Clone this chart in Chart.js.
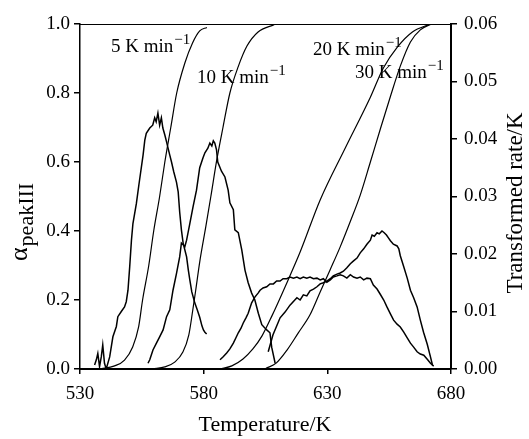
<!DOCTYPE html>
<html>
<head>
<meta charset="utf-8">
<script src="https://cdn.jsdelivr.net/npm/chart.js@4.4.1/dist/chart.umd.min.js"></script>
<style>
  body { margin: 0; background: #fff; }
  #wrap { width: 529px; height: 439px; position: relative; }
</style>
</head>
<body>
<div id="wrap"><canvas id="chart"></canvas></div>
<script>
// conversion curves (left axis, alpha)
const conv5T = [537.9, 544.0, 548.0, 551.3, 553.7, 555.3, 557.8, 559.8, 562.2, 564.3, 566.7, 569.1, 572.4, 575.5, 578.4, 581.3];
const conv5A = [0, 0.009, 0.026, 0.064, 0.122, 0.2, 0.3, 0.4, 0.5, 0.6, 0.7, 0.8, 0.887, 0.945, 0.98, 0.99];
const conv10T = [559.4, 564.3, 568.3, 571.6, 574.0, 575.6, 576.8, 578.4, 580.9, 582.9, 585.3, 587.8, 590.6, 593.9, 597.5, 602.0, 608.5];
const conv10A = [0, 0.006, 0.02, 0.049, 0.099, 0.171, 0.229, 0.31, 0.414, 0.5, 0.606, 0.7, 0.8, 0.875, 0.936, 0.977, 0.998];
const conv20T = [586.6, 591.4, 595.9, 599.9, 603.6, 607.6, 612.9, 619.0, 627.1, 637.2, 647.4, 652.6, 658.3, 664.4, 671.7];
const conv20A = [0, 0.009, 0.029, 0.058, 0.096, 0.154, 0.238, 0.339, 0.49, 0.64, 0.788, 0.872, 0.933, 0.977, 1.0];
const conv30T = [605.2, 609.3, 613.7, 618.2, 623.0, 627.1, 631.1, 635.2, 639.2, 643.3, 647.4, 651.4, 655.5, 659.5, 663.6, 667.6, 672.1];
const conv30A = [0.002, 0.017, 0.055, 0.104, 0.157, 0.223, 0.287, 0.354, 0.426, 0.504, 0.6, 0.695, 0.79, 0.878, 0.948, 0.983, 1.0];

// transformed rate curves (right axis, 1/K)
const rate5T = [535.9, 536.6, 537.2, 537.9, 538.6, 539.2, 539.9, 540.6, 542.0, 543.3, 544.7, 545.3, 546.7, 548.0, 548.7, 549.4, 550.1, 550.8, 551.4, 552.8, 553.8,
  555.5, 556.2, 556.8, 558.2, 559.4, 560.2, 560.8, 561.5, 562.2, 562.9, 563.5, 564.3, 565.0, 565.6, 566.3, 567.0, 567.9, 569.0, 569.7, 570.3,
  571.0, 571.7, 572.4, 573.1, 573.8, 574.4, 575.2, 576.4, 577.4, 578.4, 579.3, 579.9, 580.5, 581.2];
const rate5R = [0.0007, 0.0016, 0.0027, 0.0004, 0.0021, 0.0042, 0.001, 0.0, 0.0021, 0.0056, 0.0074, 0.0091, 0.010, 0.0108, 0.0117, 0.0137, 0.0178, 0.0224, 0.0253, 0.0288, 0.032,
  0.0372, 0.0398, 0.041, 0.0419, 0.0424, 0.0437, 0.043, 0.0445, 0.0424, 0.0437, 0.0419, 0.0407, 0.0395, 0.0384, 0.0372, 0.036, 0.0343, 0.0325, 0.0308, 0.0273,
  0.0242, 0.0219, 0.0207, 0.0195, 0.0172, 0.0155, 0.0134, 0.0115, 0.0103, 0.009, 0.0075, 0.0068, 0.0064, 0.0061];
const rate10T = [557.5, 558.2, 559.5, 560.9, 562.2, 563.6, 565.0, 566.3, 567.6, 569.0, 570.3, 571.0, 572.4, 573.1, 574.4, 575.7, 577.1, 578.4, 579.7, 580.5,
  581.7, 582.5, 583.3, 583.9, 584.5, 585.2, 585.7, 587.2, 588.6, 589.9, 590.6, 592.0, 592.6, 594.0, 595.4, 596.7, 598.0, 599.4, 600.7, 602.1, 603.5, 605.5, 606.8, 607.5, 608.9];
const rate10R = [0.001, 0.0016, 0.0033, 0.0045, 0.0056, 0.0068, 0.0091, 0.0103, 0.0137, 0.0166, 0.0195, 0.0219, 0.0213, 0.0224, 0.0253, 0.0282, 0.0311, 0.035, 0.0367, 0.0376,
  0.0384, 0.0393, 0.0388, 0.0397, 0.0393, 0.0381, 0.036, 0.0344, 0.0334, 0.0311, 0.0289, 0.0277, 0.0242, 0.0237, 0.0207, 0.0172, 0.015, 0.0132, 0.012, 0.0097, 0.0077, 0.0068, 0.0063, 0.0038, 0.001];
const rate20T = [586.6, 587.8, 589.3, 590.6, 592.0, 593.0, 594.0, 595.1, 596.0, 597.1, 598.0, 598.7, 599.4, 600.7, 602.0, 602.8, 604.0, 605.5, 606.8, 608.2,
  609.5, 610.9, 612.1, 613.6, 614.9, 616.3, 617.7, 619.0, 620.3, 621.7, 623.0, 624.4, 625.8, 627.1, 628.4, 629.8, 631.2, 632.4, 633.9, 635.2,
  636.5, 637.9, 639.3, 640.6, 642.0, 643.3, 644.7, 646.0, 647.4, 648.6, 650.1, 651.4, 652.8, 654.1, 655.5, 656.8, 658.2, 659.5, 660.9, 662.3,
  663.6, 664.9, 666.3, 667.6, 669.0, 670.4, 671.7, 673.0];
const rate20R = [0.0016, 0.0021, 0.0028, 0.0035, 0.0045, 0.0054, 0.0063, 0.0071, 0.008, 0.0089, 0.0097, 0.0106, 0.0115, 0.0125, 0.0132, 0.0137, 0.0141, 0.0143, 0.0148, 0.0148,
  0.0153, 0.0153, 0.0157, 0.0157, 0.016, 0.0158, 0.016, 0.0157, 0.016, 0.0158, 0.016, 0.0157, 0.0158, 0.0155, 0.0157, 0.0151, 0.0155, 0.016, 0.0162, 0.0164,
  0.0162, 0.0158, 0.0164, 0.016, 0.0158, 0.016, 0.0155, 0.0158, 0.0157, 0.0146, 0.0139, 0.013, 0.012, 0.0108, 0.0096, 0.0085, 0.0078, 0.0073, 0.0064, 0.0054,
  0.0045, 0.0038, 0.003, 0.0026, 0.0024, 0.0017, 0.001, 0.0005];
const rate30T = [606.1, 608.0, 610.9, 612.9, 614.9, 617.7, 619.0, 620.3, 621.7, 623.0, 624.4, 625.8, 627.1, 628.4, 629.8, 631.2, 632.4, 633.9, 635.2, 636.5,
  637.9, 639.3, 640.6, 642.0, 643.3, 644.7, 646.0, 647.4, 648.1, 649.0, 650.1, 651.0, 652.1, 653.0, 653.9, 654.7, 655.5, 656.7, 658.2, 658.9,
  659.5, 660.8, 662.3, 663.6, 664.9, 666.3, 667.6, 668.9, 670.4, 671.7, 672.5];
const rate30R = [0.003, 0.0059, 0.0089, 0.0099, 0.0111, 0.0124, 0.012, 0.0129, 0.0127, 0.0136, 0.0139, 0.0143, 0.0148, 0.015, 0.0153, 0.0157, 0.0162, 0.0165, 0.0167, 0.017,
  0.0176, 0.0183, 0.0188, 0.0193, 0.0202, 0.0209, 0.0217, 0.0224, 0.0233, 0.0231, 0.0237, 0.0235, 0.024, 0.0237, 0.0233, 0.0228, 0.0223, 0.0217, 0.0214, 0.0209,
  0.0197, 0.0179, 0.0158, 0.0137, 0.0124, 0.0108, 0.0085, 0.0064, 0.0043, 0.0021, 0.0007];

const xTicks = [530, 580, 630, 680];
const alphaTicks = [0, 0.2, 0.4, 0.6, 0.8, 1.0];
const rateTicks = [0, 0.01, 0.02, 0.03, 0.04, 0.05, 0.06];
const curveLabels = ['5 K min', '10 K min', '20 K min', '30 K min'];

const SERIF = "'Liberation Serif', 'Times New Roman', serif";

function pts(xs, ys) {
  return xs.map((x, i) => ({ x: x, y: ys[i] }));
}

function convSet(xs, ys) {
  return {
    data: pts(xs, ys), yAxisID: 'y', borderColor: '#000', borderWidth: 1.2,
    pointRadius: 0, cubicInterpolationMode: 'monotone', fill: false
  };
}

function rateSet(xs, ys) {
  return {
    data: pts(xs, ys), yAxisID: 'y2', borderColor: '#000', borderWidth: 1.5,
    pointRadius: 0, tension: 0, fill: false
  };
}

// top frame line, axis titles and curve labels
const decorations = {
  id: 'decorations',
  afterDraw(chart) {
    const ctx = chart.ctx;
    const a = chart.chartArea;
    ctx.save();
    ctx.strokeStyle = '#000';
    ctx.lineWidth = 1;
    ctx.beginPath();
    ctx.moveTo(a.left, a.top + 0.5);
    ctx.lineTo(a.right, a.top + 0.5);
    ctx.stroke();

    ctx.fillStyle = '#000';
    ctx.textBaseline = 'alphabetic';

    // curve labels with superscript -1
    const spots = [[111, 52], [197, 83], [313, 55], [355, 78]];
    curveLabels.forEach((txt, i) => {
      ctx.font = '19px ' + SERIF;
      ctx.textAlign = 'left';
      ctx.fillText(txt, spots[i][0], spots[i][1]);
      const w = ctx.measureText(txt).width;
      ctx.font = '15px ' + SERIF;
      ctx.fillText('\u22121', spots[i][0] + w + 1, spots[i][1] - 8);
    });

    // x title
    ctx.font = '22px ' + SERIF;
    ctx.textAlign = 'center';
    ctx.fillText('Temperature/K', 265, 431);

    // right title
    ctx.save();
    ctx.translate(522, 203);
    ctx.rotate(-Math.PI / 2);
    ctx.font = '23px ' + SERIF;
    ctx.textAlign = 'center';
    ctx.fillText('Transformed rate/K', 0, 0);
    ctx.restore();

    // left title alpha_peakIII
    ctx.save();
    ctx.translate(27, 261);
    ctx.rotate(-Math.PI / 2);
    ctx.textAlign = 'left';
    ctx.font = '26px ' + SERIF;
    ctx.fillText('\u03b1', 0, 0);
    const aw = ctx.measureText('\u03b1').width;
    ctx.font = '22px ' + SERIF;
    ctx.fillText('peakIII', aw + 1, 6);
    ctx.restore();

    ctx.restore();
  }
};

new Chart(document.getElementById('chart'), {
  type: 'line',
  data: {
    datasets: [
      convSet(conv5T, conv5A),
      convSet(conv10T, conv10A),
      convSet(conv20T, conv20A),
      convSet(conv30T, conv30A),
      rateSet(rate5T, rate5R),
      rateSet(rate10T, rate10R),
      rateSet(rate20T, rate20R),
      rateSet(rate30T, rate30R)
    ]
  },
  options: {
    responsive: true,
    maintainAspectRatio: false,
    animation: false,
    layout: { padding: { top: 24, left: 0, right: 0, bottom: 0 } },
    plugins: { legend: { display: false }, tooltip: { enabled: false } },
    scales: {
      x: {
        type: 'linear', min: 530, max: 680,
        afterFit(s) { s.height = 70; },
        afterBuildTicks(s) { s.ticks = xTicks.map(v => ({ value: v })); },
        ticks: { color: '#000', padding: 9, maxRotation: 0, font: { family: SERIF, size: 19 } },
        grid: { drawOnChartArea: false, drawTicks: true, tickLength: 5, color: '#000', lineWidth: 1.5 },
        border: { display: true, color: '#000', width: 2 }
      },
      y: {
        position: 'left', min: 0, max: 1,
        afterFit(s) { s.width = 80; },
        afterBuildTicks(s) { s.ticks = alphaTicks.map(v => ({ value: v })); },
        ticks: { color: '#000', padding: 4, font: { family: SERIF, size: 19 }, callback: v => v.toFixed(1) },
        grid: { drawOnChartArea: false, drawTicks: true, tickLength: 6, color: '#000', lineWidth: 1.5 },
        border: { display: true, color: '#000', width: 1.5 }
      },
      y2: {
        position: 'right', min: 0, max: 0.06,
        afterFit(s) { s.width = 78; },
        afterBuildTicks(s) { s.ticks = rateTicks.map(v => ({ value: v })); },
        ticks: { color: '#000', padding: 7, font: { family: SERIF, size: 19 }, callback: v => v.toFixed(2) },
        grid: { drawOnChartArea: false, drawTicks: true, tickLength: 6, color: '#000', lineWidth: 1.5 },
        border: { display: true, color: '#000', width: 2 }
      }
    }
  },
  plugins: [decorations]
});
</script>
</body>
</html>
